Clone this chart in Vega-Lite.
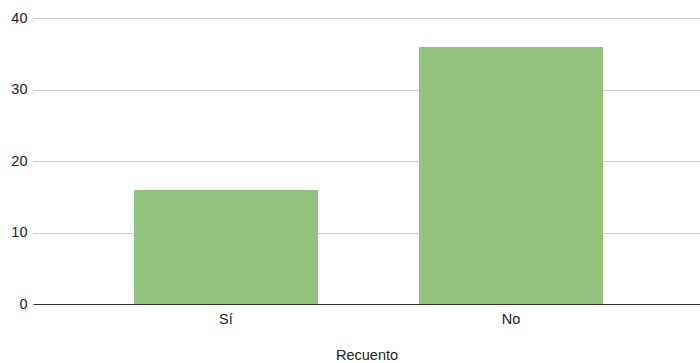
{
  "$schema": "https://vega.github.io/schema/vega-lite/v6.json",
  "autosize": "none",
  "width": 667,
  "height": 286,
  "padding": {"left": 33, "top": 18, "right": 0, "bottom": 59},
  "background": "white",
  "config": {
    "view": {"stroke": null},
    "font": "Liberation Sans"
  },
  "data": {
    "values": [
      {"respuesta": "Sí", "recuento": 16},
      {"respuesta": "No", "recuento": 36}
    ]
  },
  "mark": {"type": "bar", "color": "#93c47d", "cornerRadiusTopLeft": 2, "cornerRadiusTopRight": 2},
  "encoding": {
    "x": {
      "field": "respuesta",
      "type": "nominal",
      "sort": ["Sí", "No"],
      "scale": {"paddingInner": 0.354, "paddingOuter": 0.347, "align": 0.51},
      "axis": {
        "title": "Recuento",
        "titleFont": "Liberation Sans",
        "titleFontSize": 14.5,
        "titleFontWeight": "normal",
        "titleColor": "#222",
        "titlePadding": 23,
        "labelAngle": 0,
        "labelFontSize": 14.5,
        "labelColor": "#222",
        "labelPadding": 8,
        "ticks": false,
        "domainColor": "#333",
        "domainWidth": 1
      }
    },
    "y": {
      "field": "recuento",
      "type": "quantitative",
      "scale": {"domain": [0, 40]},
      "axis": {
        "title": null,
        "values": [0, 10, 20, 30, 40],
        "labelFontSize": 14.5,
        "labelColor": "#222",
        "labelPadding": 6,
        "ticks": false,
        "domain": false,
        "gridColor": "#cccccc",
        "gridWidth": 1
      }
    }
  }
}
